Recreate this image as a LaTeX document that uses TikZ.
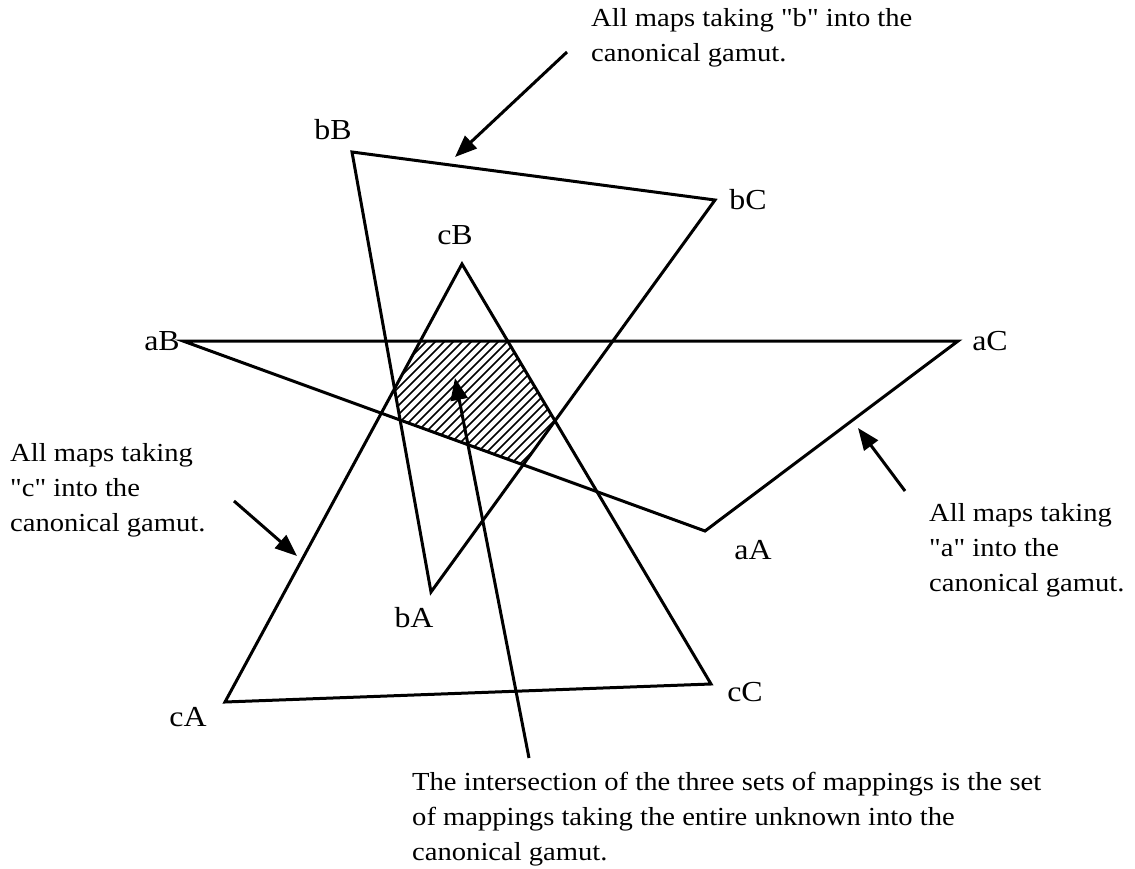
\documentclass[tikz,border=0pt]{standalone}
\usepackage{fontspec}
\newfontfamily\diafont{Liberation Serif}[FakeStretch=1.1]
\usetikzlibrary{arrows.meta}
\begin{document}
\begin{tikzpicture}[x=1pt,y=-1pt,
  edge/.style={line width=3pt, line join=miter},
  ptr/.style={line width=3pt, -{Triangle[length=22pt,width=17pt]}},
  hatch/.style={line width=1.6pt},
  lbl/.style={font=\diafont\fontsize{29}{32}\selectfont, inner sep=0pt},
  note/.style={font=\diafont\fontsize{26}{35}\selectfont, align=left, anchor=north west, inner sep=0pt}]
\useasboundingbox (0,0) rectangle (1135,869);
% vertices
\coordinate (bB) at (352,152);
\coordinate (bC) at (715,200);
\coordinate (bA) at (431,592);
\coordinate (cB) at (462,264);
\coordinate (cC) at (711,684);
\coordinate (cA) at (225,702);
\coordinate (aB) at (183,341);
\coordinate (aC) at (958,341);
\coordinate (aA) at (705,531);
% hatched intersection
\begin{scope}
  \clip (bB)--(bC)--(bA)--cycle;
  \clip (cB)--(cC)--(cA)--cycle;
  \clip (aB)--(aC)--(aA)--cycle;
  \foreach \i in {0,...,45} \draw[hatch] (250+9*\i,500) -- ++(200,-200);
\end{scope}
% triangles
\draw[edge] (bB)--(bC)--(bA)--cycle;
\draw[edge] (cB)--(cC)--(cA)--cycle;
\draw[edge] (aB)--(aC)--(aA)--cycle;
% vertex labels
\node[lbl] (lbB) at (333,130) {bB};
\node[lbl] (lbC) at (748,200) {bC};
\node[lbl] (lbA) at (414,618) {bA};
\node[lbl] (lcB) at (455,235) {cB};
\node[lbl] (lcC) at (745,692) {cC};
\node[lbl] (lcA) at (188,717) {cA};
\node[lbl] (laB) at (162,341) {aB};
\node[lbl] (laC) at (990,341) {aC};
\node[lbl] (laA) at (753,550) {aA};
% notes
\node[note] (nb) at (591,8) {All maps taking "b" into the\\canonical gamut.};
\node[note] (nc) at (10,443) {All maps taking\\"c" into the\\canonical gamut.};
\node[note] (na) at (929,503) {All maps taking\\"a" into the\\canonical gamut.};
\node[note] (ni) at (412,772) {The intersection of the three sets of mappings is the set\\of mappings taking the entire unknown into the\\canonical gamut.};
% arrows
\coordinate (btail) at (567,52);
\coordinate (btip) at (455,157);
\coordinate (ctail) at (234,501);
\coordinate (ctip) at (297,556);
\coordinate (atail) at (905,491);
\coordinate (atip) at (858,428);
\coordinate (itail) at (529,758);
\coordinate (itip) at (455,378);
\draw[ptr] (btail) -- (btip);
\draw[ptr] (ctail) -- (ctip);
\draw[ptr] (atail) -- (atip);
\draw[ptr] (itail) -- (itip);
\end{tikzpicture}
\end{document}
